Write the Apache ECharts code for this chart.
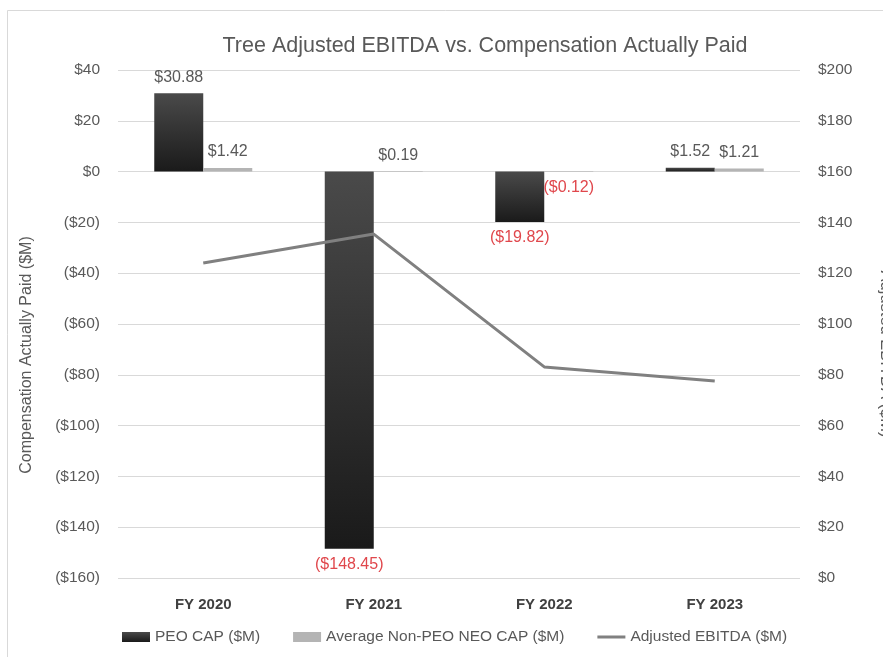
<!DOCTYPE html>
<html>
<head>
<meta charset="utf-8">
<script src="https://cdn.jsdelivr.net/npm/echarts@6/dist/echarts.min.js"></script>
<style>
html,body{margin:0;padding:0;background:#fff;}
#chart{width:883px;height:657px;}
</style>
</head>
<body>
<div id="chart"></div>
<script>
const categories = ['FY 2020', 'FY 2021', 'FY 2022', 'FY 2023'];
const peoCap = [30.88, -148.45, -19.82, 1.52];
const neoCap = [1.42, 0.19, -0.12, 1.21];
const ebitda = [124, 135.4, 83.1, 77.6];
const leftTicks = { min: -160, max: 40, interval: 20 };
const rightTicks = { min: 0, max: 200, interval: 20 };

const FONT = "'Liberation Sans', Arial, sans-serif";
const GRAY_TXT = '#595959';
const RED_TXT = '#e0474c';

function money(v) {
  const s = '$' + Math.abs(v).toFixed(2);
  return v < 0 ? '(' + s + ')' : s;
}
function axisMoney(v) {
  return v < 0 ? '($' + (-v) + ')' : '$' + v;
}
function barData(arr) {
  return arr.map(v => ({
    value: v,
    label: {
      position: v < 0 ? 'bottom' : 'top',
      color: v < 0 ? RED_TXT : GRAY_TXT
    }
  }));
}

const chart = echarts.init(document.getElementById('chart'));
chart.setOption({
  animation: false,
  backgroundColor: '#fff',
  textStyle: { fontFamily: FONT },
  graphic: [{
    type: 'rect',
    silent: true,
    z: -10,
    shape: { x: 7.5, y: 10.5, width: 1000, height: 1000 },
    style: { fill: 'none', stroke: '#d9d9d9', lineWidth: 1 }
  }],
  title: {
    text: 'Tree Adjusted EBITDA vs. Compensation Actually Paid',
    left: 480, textAlign: 'center', top: 30,
    textStyle: { fontFamily: FONT, fontSize: 21.5, fontWeight: 'normal', color: GRAY_TXT }
  },
  legend: {
    left: 122, top: 629, padding: 0,
    itemGap: 33, itemWidth: 28, itemHeight: 10, itemTextGap: 3,
    textStyle: { fontFamily: FONT, fontSize: 15.5, color: GRAY_TXT },
    data: [
      { name: 'PEO CAP ($M)', icon: 'rect' },
      { name: 'Average Non-PEO NEO CAP ($M)', icon: 'rect' },
      { name: 'Adjusted EBITDA ($M)',
        icon: 'path://M0,0 L0.01,0 L0.01,0.01 Z M0,3.5 L28,3.5 L28,6.5 L0,6.5 Z M27.99,10 L28,10 L28,9.99 Z' }
    ]
  },
  grid: { left: 118, right: 83, top: 70, bottom: 79, outerBoundsMode: 'none', containLabel: false },
  xAxis: {
    type: 'category',
    data: categories,
    axisLine: { show: false },
    axisTick: { show: false },
    axisLabel: { margin: 19, fontFamily: FONT, fontSize: 15, fontWeight: 'bold', color: '#404040' }
  },
  yAxis: [{
    type: 'value',
    min: leftTicks.min, max: leftTicks.max, interval: leftTicks.interval,
    name: 'Compensation Actually Paid ($M)',
    nameLocation: 'middle', nameGap: 83, nameRotate: 90,
    nameTextStyle: { fontFamily: FONT, fontSize: 16, color: GRAY_TXT, padding: [0, 62, 0, 0] },
    axisLine: { show: false }, axisTick: { show: false },
    axisLabel: { margin: 18, formatter: axisMoney, fontFamily: FONT, fontSize: 15.5, color: GRAY_TXT },
    splitLine: { lineStyle: { color: '#d9d9d9', width: 1 } }
  }, {
    type: 'value',
    position: 'right',
    min: rightTicks.min, max: rightTicks.max, interval: rightTicks.interval,
    name: 'Adjusted EBITDA ($M)',
    nameLocation: 'middle', nameGap: 77, nameRotate: -90,
    nameTextStyle: { fontFamily: FONT, fontSize: 16.5, color: GRAY_TXT, padding: [0, 0, 0, 60] },
    axisLine: { show: false }, axisTick: { show: false },
    axisLabel: { margin: 18, formatter: v => '$' + v, fontFamily: FONT, fontSize: 15.5, color: GRAY_TXT },
    splitLine: { show: false }
  }],
  series: [{
    name: 'PEO CAP ($M)',
    type: 'bar',
    barWidth: 49, barGap: '0%',
    itemStyle: {
      color: new echarts.graphic.LinearGradient(0, 0, 0, 1, [
        { offset: 0, color: '#4a4a4a' },
        { offset: 1, color: '#1a1a1a' }
      ])
    },
    label: {
      show: true, distance: 8,
      formatter: p => money(p.value),
      fontFamily: FONT, fontSize: 16
    },
    data: barData(peoCap)
  }, {
    name: 'Average Non-PEO NEO CAP ($M)',
    type: 'bar',
    barWidth: 49,
    itemStyle: { color: '#b4b4b4' },
    label: {
      show: true, distance: 8,
      formatter: p => money(p.value),
      fontFamily: FONT, fontSize: 16
    },
    data: barData(neoCap)
  }, {
    name: 'Adjusted EBITDA ($M)',
    type: 'line',
    yAxisIndex: 1,
    symbol: 'none',
    lineStyle: { color: '#808080', width: 3 },
    itemStyle: { color: '#808080' },
    data: ebitda
  }]
});
</script>
</body>
</html>
